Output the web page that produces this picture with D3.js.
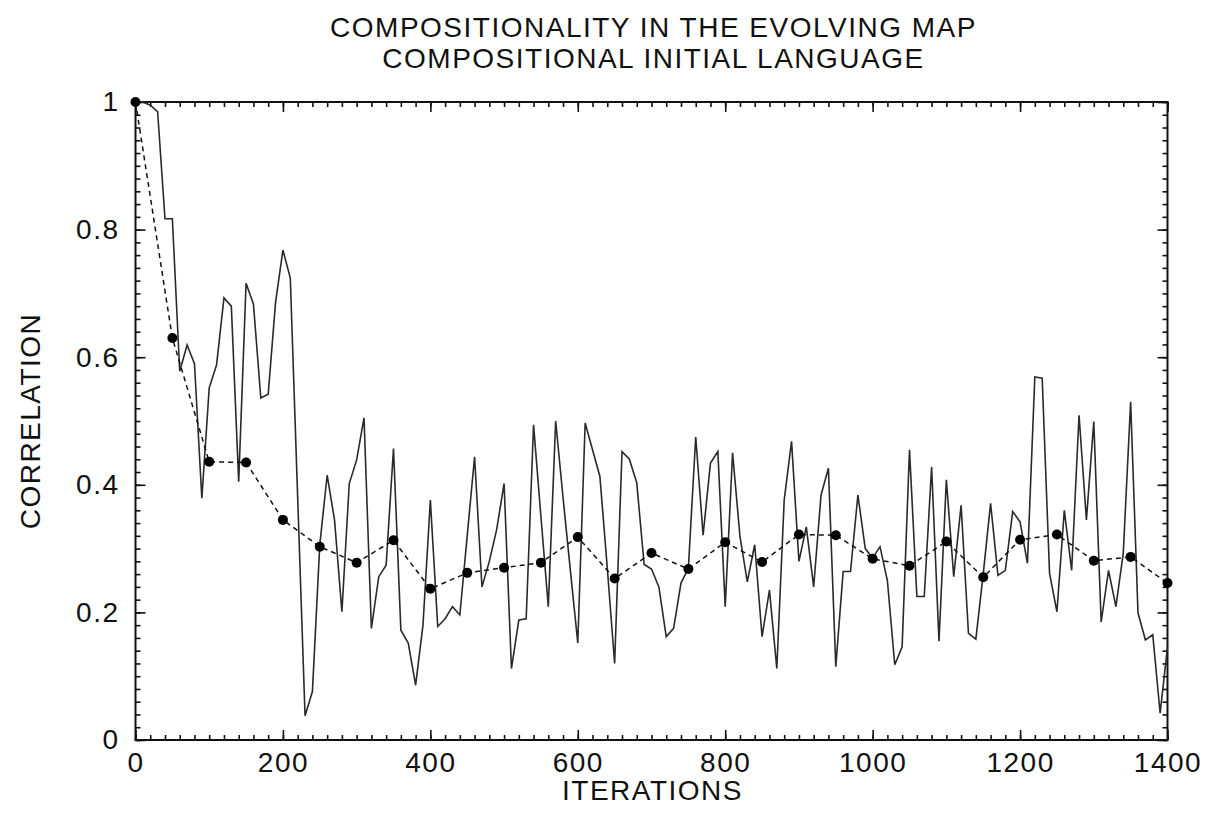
<!DOCTYPE html>
<html lang="en">
  <head>
    <meta charset="UTF-8" />
    <title>Compositionality in the evolving map</title>
    <script src="https://d3js.org/d3.v7.min.js"></script>
    <style>
      body {
        margin: 0;
        background: #fff;
      }
      text {
        font-family: "Liberation Sans", Arial, sans-serif;
        font-size: 28px;
        letter-spacing: 1.5px;
        fill: #111;
      }
      .frame {
        fill: none;
        stroke: #111;
        stroke-width: 2px;
      }
      .axis path {
        display: none;
      }
      .axis line {
        stroke: #111;
        stroke-width: 1.6px;
      }
      .raw {
        fill: none;
        stroke: #2a2a2a;
        stroke-width: 1.6px;
      }
      .avg {
        fill: none;
        stroke: #111;
        stroke-width: 1.5px;
        stroke-dasharray: 5, 4;
      }
    </style>
  </head>
  <body>
    <div id="chart"></div>
    <script>
      var titleLines = [
        "COMPOSITIONALITY IN THE EVOLVING MAP",
        "COMPOSITIONAL INITIAL LANGUAGE",
      ];
      var xLabel = "ITERATIONS";
      var yLabel = "CORRELATION";

      var xTicks = [0, 200, 400, 600, 800, 1000, 1200, 1400];
      var xTickLabels = ["0", "200", "400", "600", "800", "1000", "1200", "1400"];
      var yTicks = [0, 0.2, 0.4, 0.6, 0.8, 1];
      var yTickLabels = ["0", "0.2", "0.4", "0.6", "0.8", "1"];

      // correlation measured every 10 iterations (solid line)
      var rawStep = 10;
      var rawValues = [
        1.0, 1.0, 0.995, 0.985, 0.817, 0.817, 0.578, 0.619, 0.59, 0.379,
        0.552, 0.588, 0.693, 0.68, 0.405, 0.716, 0.683, 0.536, 0.542, 0.686,
        0.768, 0.724, 0.38, 0.038, 0.076, 0.306, 0.415, 0.345, 0.201, 0.402,
        0.439, 0.505, 0.175, 0.256, 0.274, 0.457, 0.172, 0.152, 0.086, 0.18,
        0.376, 0.178, 0.19, 0.209, 0.196, 0.32, 0.444, 0.24, 0.28, 0.33,
        0.402, 0.112, 0.188, 0.19, 0.494, 0.35, 0.209, 0.5, 0.38, 0.265,
        0.152, 0.497, 0.455, 0.413, 0.27, 0.12, 0.452, 0.44, 0.403, 0.275,
        0.268, 0.24, 0.162, 0.175, 0.246, 0.269, 0.475, 0.321, 0.434, 0.452,
        0.209, 0.45, 0.319, 0.248, 0.306, 0.162, 0.235, 0.112, 0.376, 0.468,
        0.28, 0.334, 0.24, 0.384, 0.426, 0.115, 0.264, 0.264, 0.384, 0.3,
        0.285, 0.303, 0.25, 0.118, 0.146, 0.455, 0.225, 0.225, 0.428, 0.155,
        0.408, 0.256, 0.368, 0.167, 0.158, 0.26, 0.371, 0.258, 0.266, 0.358,
        0.342, 0.277, 0.569, 0.567, 0.261, 0.201, 0.36, 0.266, 0.509, 0.345,
        0.499, 0.185, 0.266, 0.209, 0.293, 0.53, 0.199, 0.157, 0.165, 0.042,
        0.146,
      ];

      // averaged correlation every 50 iterations (dashed line with dots)
      var avgStep = 50;
      var avgValues = [
        1.0, 0.63, 0.436, 0.435, 0.345, 0.303, 0.278, 0.313, 0.237, 0.262,
        0.27, 0.278, 0.318, 0.253, 0.293, 0.268, 0.31, 0.279, 0.322, 0.321,
        0.284, 0.273, 0.311, 0.255, 0.314, 0.322, 0.281, 0.287, 0.246,
      ];

      var rawData = rawValues.map((v, i) => ({ x: i * rawStep, y: v }));
      var avgData = avgValues.map((v, i) => ({ x: i * avgStep, y: v }));

      var margin = { top: 102, right: 37.5, bottom: 92, left: 135.5 },
        width = 1205 - margin.left - margin.right,
        height = 832 - margin.top - margin.bottom;

      var svg = d3
        .select("#chart")
        .append("svg")
        .attr("width", 1205)
        .attr("height", 832);

      // titles
      svg
        .selectAll(".title")
        .data(titleLines)
        .enter()
        .append("text")
        .attr("class", "title")
        .attr("x", margin.left + width / 2 + 2)
        .attr("y", (d, i) => 37 + i * 31)
        .attr("text-anchor", "middle")
        .text((d) => d);

      var g = svg
        .append("g")
        .attr("transform", "translate(" + margin.left + "," + margin.top + ")");

      var x = d3.scaleLinear().domain([0, 1400]).range([0, width]);
      var y = d3.scaleLinear().domain([0, 1]).range([height, 0]);

      var xMinor = d3.range(0, 1401, 20);
      var yMinor = d3.range(0, 1.001, 0.02);

      // minor ticks on all four sides, pointing inward
      g.append("g")
        .attr("class", "axis")
        .attr("transform", "translate(0," + height + ")")
        .call(d3.axisBottom(x).tickValues(xMinor).tickSize(-5).tickFormat(""));
      g.append("g")
        .attr("class", "axis")
        .call(d3.axisTop(x).tickValues(xMinor).tickSize(-5).tickFormat(""));
      g.append("g")
        .attr("class", "axis")
        .call(d3.axisLeft(y).tickValues(yMinor).tickSize(-5).tickFormat(""));
      g.append("g")
        .attr("class", "axis")
        .attr("transform", "translate(" + width + ",0)")
        .call(d3.axisRight(y).tickValues(yMinor).tickSize(-5).tickFormat(""));

      // major ticks
      g.append("g")
        .attr("class", "axis")
        .attr("transform", "translate(0," + height + ")")
        .call(
          d3
            .axisBottom(x)
            .tickValues(xTicks)
            .tickSize(-10)
            .tickPadding(12)
            .tickFormat((d, i) => xTickLabels[i])
        )
        .selectAll("text")
        .style("font-size", "28px")
        .attr("fill", "#111");
      g.append("g")
        .attr("class", "axis")
        .call(d3.axisTop(x).tickValues(xTicks).tickSize(-10).tickFormat(""));
      g.append("g")
        .attr("class", "axis")
        .call(
          d3
            .axisLeft(y)
            .tickValues(yTicks)
            .tickSize(-10)
            .tickPadding(16)
            .tickFormat((d, i) => yTickLabels[i])
        )
        .selectAll("text")
        .style("font-size", "28px")
        .attr("fill", "#111");
      g.append("g")
        .attr("class", "axis")
        .attr("transform", "translate(" + width + ",0)")
        .call(d3.axisRight(y).tickValues(yTicks).tickSize(-10).tickFormat(""));

      g.append("rect")
        .attr("class", "frame")
        .attr("x", 0)
        .attr("y", 0)
        .attr("width", width)
        .attr("height", height);

      var line = d3
        .line()
        .x((d) => x(d.x))
        .y((d) => y(d.y));

      g.append("path").datum(rawData).attr("class", "raw").attr("d", line);
      g.append("path").datum(avgData).attr("class", "avg").attr("d", line);

      g.append("g")
        .selectAll("circle")
        .data(avgData)
        .enter()
        .append("circle")
        .attr("cx", (d) => x(d.x))
        .attr("cy", (d) => y(d.y))
        .attr("r", 5)
        .style("fill", "#000");

      // axis titles
      svg
        .append("text")
        .attr("x", margin.left + width / 2 + 1)
        .attr("y", 800)
        .attr("text-anchor", "middle")
        .text(xLabel);
      svg
        .append("text")
        .attr("transform", "translate(40," + (margin.top + height / 2) + ") rotate(-90)")
        .attr("text-anchor", "middle")
        .text(yLabel);
    </script>
  </body>
</html>
